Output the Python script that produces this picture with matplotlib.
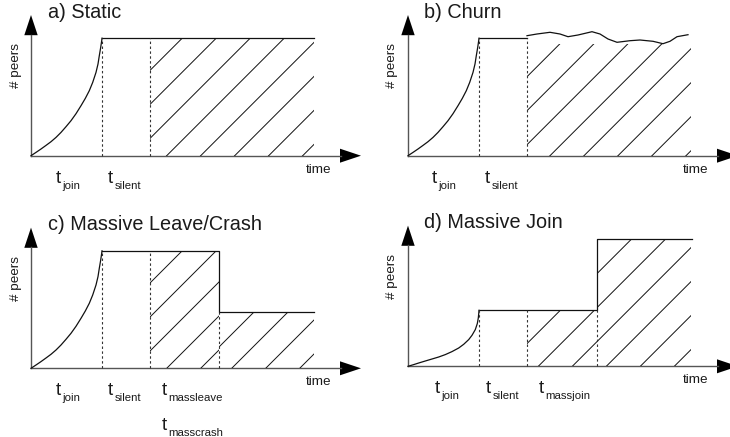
import numpy as np
import matplotlib.pyplot as plt
from matplotlib.patches import Polygon

plt.rcParams['font.family'] = ['Liberation Sans', 'DejaVu Sans']

W, H = 730, 437

# panel titles and where each origin sits in the picture (px from top-left)
titles = ['a) Static', 'b) Churn', 'c) Massive Leave/Crash', 'd) Massive Join']
origins = [(31, 155.7), (408, 155.7), (31, 368.3), (408, 366.3)]

# times and peer counts, in units
t_silent = 71
t_hatch = 118.5
t_end = 283
t_leave = 188.3
t_massjoin = 189.3
full = 117.5
low_c = 56.3
low_d = 56
high_d = 127

# join phase (a, b, c) and the slower join of d
join_t = [0, 5, 10, 15, 20, 25, 30, 35, 40, 45, 50, 54.3, 58.3, 61.7, 65,
          67, 68.3, 69.7, 70.7, 71]
join_n = [0, 3.3, 6.7, 10.3, 14, 18.3, 23.3, 29, 35, 42, 50, 57.3, 65, 73.3,
          83.3, 91.7, 100, 108.3, 115, 117.5]
slow_join_t = [0, 5.7, 10.7, 17.3, 24, 30.7, 37.3, 44, 50.7, 55.7, 60.7, 64,
               67.3, 69.3, 70.3, 70.8, 71]
slow_join_n = [0, 1.7, 3.3, 5.3, 7.3, 9.3, 11.7, 14.7, 18.3, 22, 26.7, 31,
               36.7, 42.7, 48.3, 53.3, 56]

# churn: wavy number of peers after t_hatch
churn_t = [119, 129, 142, 152, 160, 170, 184, 192, 200, 209, 222, 232, 245,
           255, 262, 269, 280]
churn_n = [120, 121.7, 123.4, 121.7, 119, 120.7, 124, 121.7, 116.7, 113.4,
           115, 115.7, 114.4, 112, 114.4, 119, 121]
churn_hatch_top = 111.5

LINE = '#111111'
AXC = '#555555'
TXT = '#1a1a1a'


def make_axes(ox, oy):
    ax = fig.add_axes([(ox - 35) / W, (H - oy - 85) / H, 370 / W, 245 / H])
    ax.set_xlim(-35, 335)
    ax.set_ylim(-85, 160)
    ax.axis('off')
    return ax


def draw_frame(ax, title):
    # axes with filled arrow heads
    ax.plot([0, 0], [0, 121], color=AXC, lw=1.0, clip_on=False)
    ax.plot([0, 310], [0, 0], color=AXC, lw=1.0, clip_on=False)
    ax.fill([-6.7, 6.7, 0], [120.5, 120.5, 140.7], color='black', lw=0, clip_on=False)
    ax.fill([309, 309, 330], [-7, 7, 0], color='black', lw=0, clip_on=False)
    ax.text(-15.5, 90, '# peers', rotation=90, ha='center', va='center',
            fontsize=9.7, color=TXT)
    ax.text(275, -14, 'time', ha='left', va='center', fontsize=9.7, color=TXT)
    ax.text(16.5, 138, title, ha='left', va='baseline', fontsize=14.3, color=TXT)


def t_label(ax, x, sub, dy=0):
    ax.text(x, -27 + dy, 't', ha='left', va='baseline', fontsize=13.5, color=TXT)
    ax.text(x + 6.5, -33 + dy, sub, ha='left', va='baseline', fontsize=8.2, color=TXT)


def dashed(ax, t, top):
    ax.plot([t, t], [0, top], color='#333333', lw=0.8, ls=(0, (2.2, 2.2)))


def hatch(ax, verts, phase, step=34.0):
    patch = Polygon(verts, closed=True, fill=False, lw=0)
    ax.add_patch(patch)
    for c in np.arange(phase - 12 * step, t_end + step, step):
        ln, = ax.plot([c - 200, c + 300], [-200, 300], color=LINE, lw=0.7)
        ln.set_clip_path(patch)


fig = plt.figure(figsize=(W / 100, H / 100), dpi=100)
axes = [make_axes(ox, oy) for ox, oy in origins]
for ax, title in zip(axes, titles):
    draw_frame(ax, title)

# a) static
ax = axes[0]
hatch(ax, [(t_hatch, 0), (t_hatch, full), (t_end, full), (t_end, 0)], 135.7)
ax.plot(join_t, join_n, color=LINE, lw=0.9)
ax.plot([t_silent, t_end], [full, full], color=LINE, lw=0.9)
dashed(ax, t_silent, full)
dashed(ax, t_hatch, full)
t_label(ax, 25, 'join')
t_label(ax, 77, 'silent')

# b) churn
ax = axes[1]
hatch(ax, [(t_hatch, 0), (t_hatch, churn_hatch_top), (t_end, churn_hatch_top),
           (t_end, 0)], 142)
ax.plot(join_t, join_n, color=LINE, lw=0.9)
ax.plot([t_silent, t_hatch], [full, full], color=LINE, lw=0.9)
ax.plot(churn_t, churn_n, color=LINE, lw=0.9)
dashed(ax, t_silent, full)
dashed(ax, t_hatch, full)
t_label(ax, 24, 'join')
t_label(ax, 77, 'silent')

# c) massive leave / crash
ax = axes[2]
hatch(ax, [(t_hatch, 0), (t_hatch, full), (t_leave, full), (t_leave, 0)], 135.7)
hatch(ax, [(t_leave, 0), (t_leave, low_c), (t_end, low_c), (t_end, 0)], 200.7)
ax.plot(join_t, join_n, color=LINE, lw=0.9)
ax.plot([t_silent, t_leave, t_leave, t_end], [full, full, low_c, low_c],
        color=LINE, lw=0.9)
dashed(ax, t_silent, full)
dashed(ax, t_hatch, full)
dashed(ax, t_leave, low_c)
t_label(ax, 25, 'join')
t_label(ax, 77, 'silent')
t_label(ax, 131, 'massleave')
t_label(ax, 131, 'masscrash', dy=-35)

# d) massive join
ax = axes[3]
hatch(ax, [(t_hatch, 0), (t_hatch, low_d), (t_massjoin, low_d), (t_massjoin, high_d),
           (t_end, high_d), (t_end, 0)], 130.3)
ax.plot(slow_join_t, slow_join_n, color=LINE, lw=0.9)
ax.plot([t_silent, t_massjoin, t_massjoin, t_end + 1], [low_d, low_d, high_d, high_d],
        color=LINE, lw=0.9)
dashed(ax, t_silent, low_d)
dashed(ax, t_hatch, low_d)
dashed(ax, t_massjoin, low_d)
t_label(ax, 27, 'join')
t_label(ax, 78, 'silent')
t_label(ax, 131, 'massjoin')

fig.savefig('out.png', dpi=100)
